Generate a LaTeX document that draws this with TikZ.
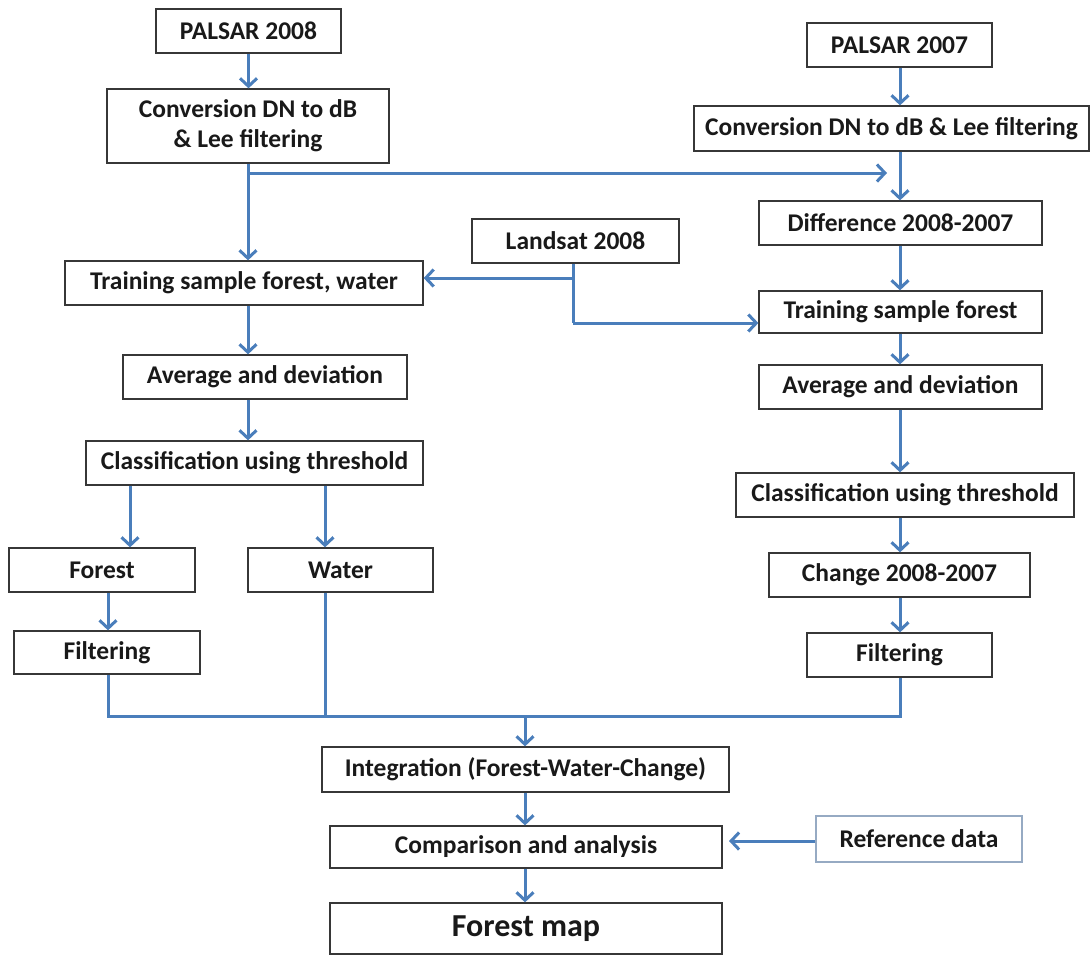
\documentclass[tikz,border=0pt]{standalone}
\usepackage{fontspec}
\setmainfont{Carlito}
\usetikzlibrary{arrows.meta}
\definecolor{arr}{RGB}{74,126,187}
\definecolor{txt}{RGB}{25,25,25}
\definecolor{bord}{RGB}{55,55,55}
\definecolor{lightbord}{RGB}{150,170,195}
\begin{document}
\begin{tikzpicture}[x=1pt,y=-1pt,
  box/.style={draw=bord, line width=1.3pt, fill=white, text=txt,
    font=\bfseries\fontsize{25.5}{30}\selectfont, inner sep=0pt, align=center},
  flow/.style={draw=arr, line width=3pt, -{Straight Barb[length=8pt,width=17pt]}},
  link/.style={draw=arr, line width=3pt}]
\useasboundingbox (0,0) rectangle (1091,956);
% left column
\node[box, minimum width=185pt, minimum height=44pt] (p08) at (248.5,31) {PALSAR 2008};
\node[box, minimum width=282pt, minimum height=74pt] (conv1) at (248,126) {Conversion DN to dB\\\& Lee filtering};
\node[box, minimum width=358pt, minimum height=44pt] (train1) at (244,283) {Training sample forest, water};
\node[box, minimum width=284pt, minimum height=44pt] (avg1) at (265,377) {Average and deviation};
\node[box, minimum width=337pt, minimum height=44pt] (class1) at (254.5,463) {Classification using threshold};
\node[box, minimum width=186pt, minimum height=44pt] (forest) at (102,570) {Forest};
\node[box, minimum width=185pt, minimum height=44pt] (water) at (340.5,570) {Water};
\node[box, minimum width=186pt, minimum height=43pt] (filt1) at (107,652.5) {Filtering};
% middle
\node[box, minimum width=207pt, minimum height=44pt] (landsat) at (575.5,241) {Landsat 2008};
% right column
\node[box, minimum width=185pt, minimum height=44pt] (p07) at (899.5,45) {PALSAR 2007};
\node[box, minimum width=395pt, minimum height=45pt] (conv2) at (891.5,128.5) {Conversion DN to dB \& Lee filtering};
\node[box, minimum width=283pt, minimum height=44pt] (diff) at (900.5,223) {Difference 2008-2007};
\node[box, minimum width=283pt, minimum height=42pt] (train2) at (900.5,312) {Training sample forest};
\node[box, minimum width=283pt, minimum height=44pt] (avg2) at (900.5,387) {Average and deviation};
\node[box, minimum width=338pt, minimum height=44pt] (class2) at (905,495) {Classification using threshold};
\node[box, minimum width=261pt, minimum height=44pt] (change) at (899.5,575) {Change 2008-2007};
\node[box, minimum width=185pt, minimum height=44pt] (filt2) at (899.5,655) {Filtering};
% bottom
\node[box, minimum width=407pt, minimum height=45pt] (integ) at (525.5,769.5) {Integration (Forest-Water-Change)};
\node[box, minimum width=392pt, minimum height=42pt] (comp) at (526,847) {Comparison and analysis};
\node[box, draw=lightbord, minimum width=206pt, minimum height=46pt] (ref) at (919,839) {Reference data};
\node[box, minimum width=392pt, minimum height=51pt, font=\bfseries\fontsize{32}{36}\selectfont] (fmap) at (526,928.5) {Forest map};
% coordinates
\coordinate (j1) at (248,173);
\coordinate (a1) at (887,173);
\coordinate (ls1) at (573,278);
\coordinate (ls2) at (573,323);
\coordinate (j2) at (108,716);
\coordinate (j3) at (325,716);
\coordinate (j4) at (900,716);
\coordinate (j5) at (525,716);
\coordinate (ra) at (900,0);
\coordinate (fa) at (130,0);
\coordinate (rr) at (0,841);
% arrows left
\draw[flow] (p08) -- (p08 |- conv1.north);
\draw[flow] (j1 |- conv1.south) -- (j1 |- train1.north);
\draw[flow] (j1) -- (a1);
\draw[flow] (j1 |- train1.south) -- (j1 |- avg1.north);
\draw[flow] (j1 |- avg1.south) -- (j1 |- class1.north);
\draw[flow] (fa |- class1.south) -- (fa |- forest.north);
\draw[flow] (j3 |- class1.south) -- (j3 |- water.north);
\draw[flow] (j2 |- forest.south) -- (j2 |- filt1.north);
% landsat
\draw[link] (landsat.south -| ls1) -- (ls2);
\draw[flow] (ls1) -- (ls1 -| train1.east);
\draw[flow] (ls2) -- (ls2 -| train2.west);
% arrows right
\draw[flow] (ra |- p07.south) -- (ra |- conv2.north);
\draw[flow] (ra |- conv2.south) -- (ra |- diff.north);
\draw[flow] (ra |- diff.south) -- (ra |- train2.north);
\draw[flow] (ra |- train2.south) -- (ra |- avg2.north);
\draw[flow] (ra |- avg2.south) -- (ra |- class2.north);
\draw[flow] (ra |- class2.south) -- (ra |- change.north);
\draw[flow] (ra |- change.south) -- (ra |- filt2.north);
% merge
\draw[link, line join=miter] (j2 |- filt1.south) -- (j2) -- (j4) -- (j4 |- filt2.south);
\draw[link] (j3 |- water.south) -- (j3);
\draw[flow] (j5) -- (j5 |- integ.north);
\draw[flow] (j5 |- integ.south) -- (j5 |- comp.north);
\draw[flow] (ref.west |- rr) -- (729,841);
\draw[flow] (j5 |- comp.south) -- (j5 |- fmap.north);
\end{tikzpicture}
\end{document}
